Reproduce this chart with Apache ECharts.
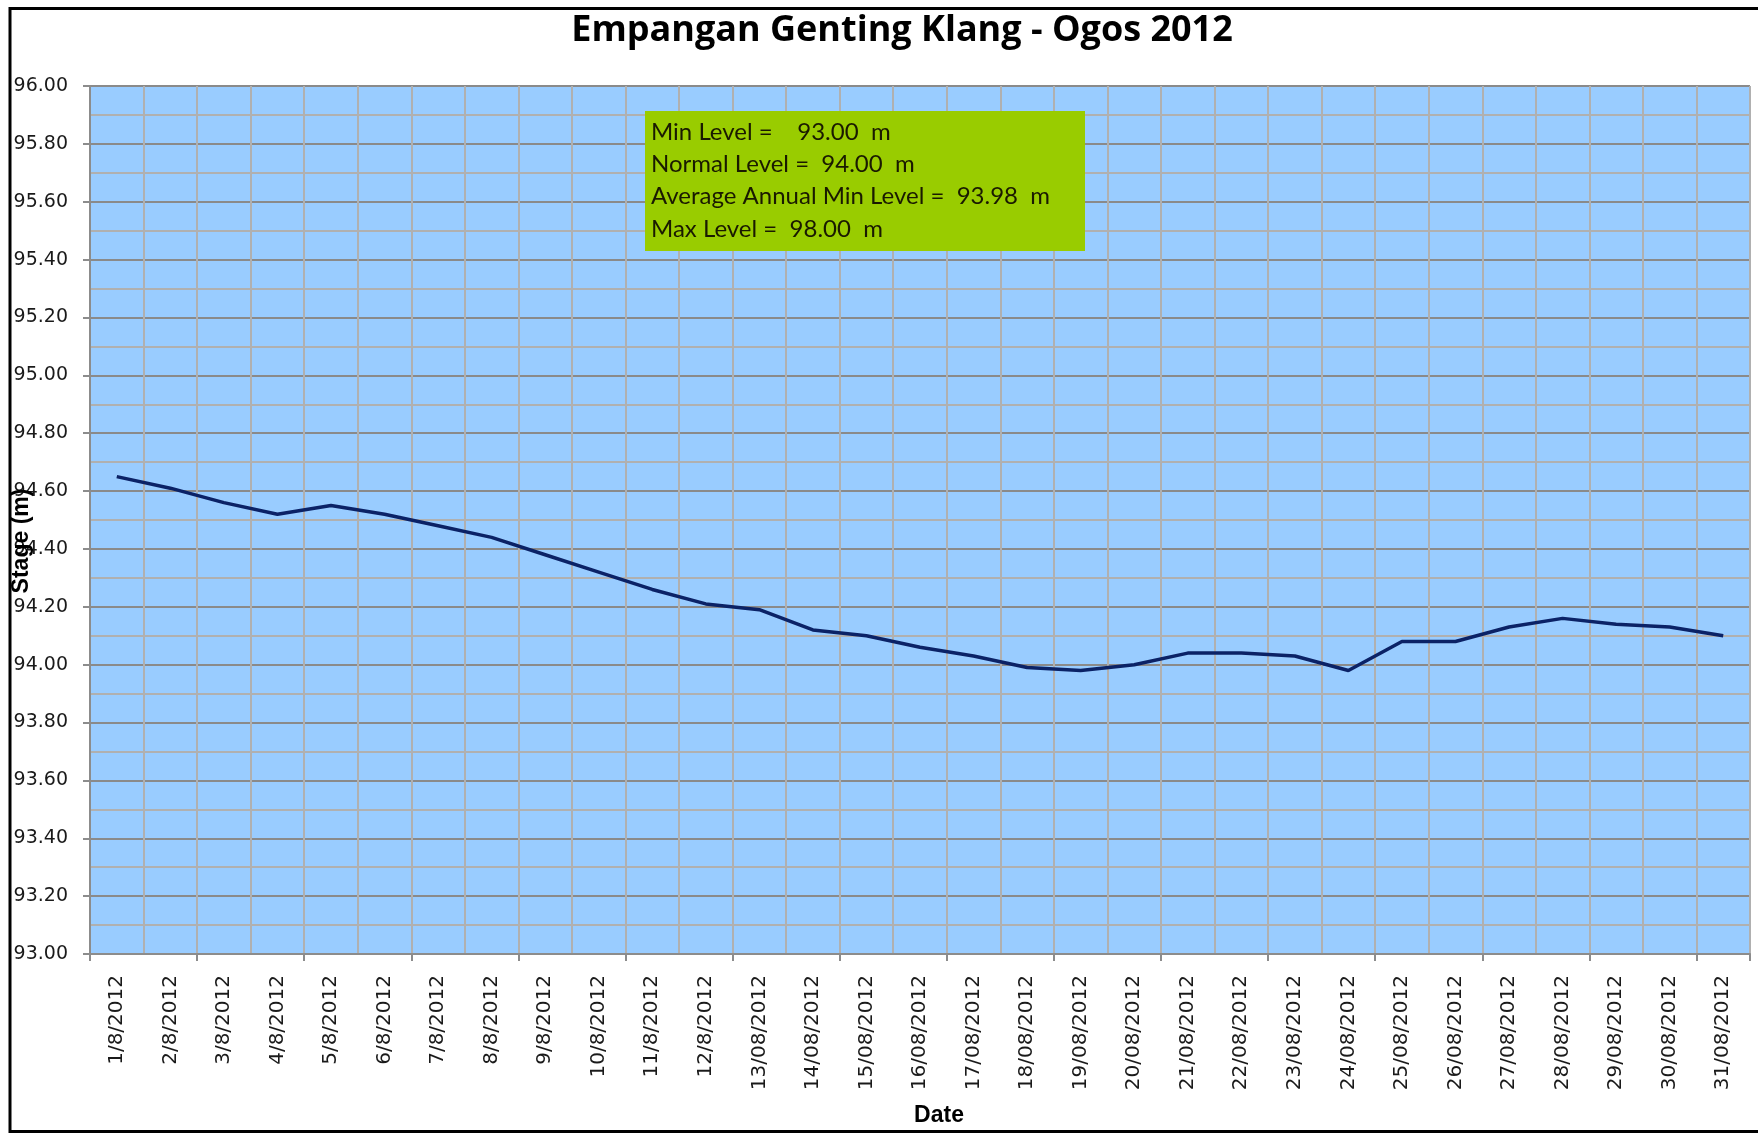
<!DOCTYPE html>
<html>
<head>
<meta charset="utf-8">
<script src="https://cdn.jsdelivr.net/npm/echarts@6/dist/echarts.min.js"></script>
<style>
html,body{margin:0;padding:0;background:#fff;}
#chart{width:1758px;height:1134px;}
</style>
</head>
<body>
<div id="chart"></div>
<script>
const titleText = 'Empangan Genting Klang - Ogos 2012';
const categories = ['1/8/2012','2/8/2012','3/8/2012','4/8/2012','5/8/2012','6/8/2012','7/8/2012','8/8/2012','9/8/2012','10/8/2012','11/8/2012','12/8/2012','13/08/2012','14/08/2012','15/08/2012','16/08/2012','17/08/2012','18/08/2012','19/08/2012','20/08/2012','21/08/2012','22/08/2012','23/08/2012','24/08/2012','25/08/2012','26/08/2012','27/08/2012','28/08/2012','29/08/2012','30/08/2012','31/08/2012'];
const stage = [94.65,94.61,94.56,94.52,94.55,94.52,94.48,94.44,94.38,94.32,94.26,94.21,94.19,94.12,94.10,94.06,94.03,93.99,93.98,94.00,94.04,94.04,94.03,93.98,94.08,94.08,94.13,94.16,94.14,94.13,94.10];
const yMin = 93.0, yMax = 96.0, yStep = 0.2;
const infoLines = ['Min Level =    93.00  m','Normal Level =  94.00  m','Average Annual Min Level =  93.98  m','Max Level =  98.00  m'];
const yName = 'Stage (m)';
const xName = 'Date';

const chart = echarts.init(document.getElementById('chart'), null, {renderer:'canvas'});
const infoText = infoLines.map((t,i)=>({
  type:'text', x: 651, y: 132 + i*32.3, z: 52,
  style:{text:t, font:'24px Lato', fill:'#1a1a00', verticalAlign:'middle', align:'left'}
}));
chart.setOption({
  animation:false,
  backgroundColor:'#ffffff',
  title:{
    text:titleText, left:897, top:8, textAlign:'center',
    textStyle:{fontFamily:'Open Sans', fontWeight:'bold', fontSize:36, color:'#000'}
  },
  grid:{left:90, right:8, top:86, bottom:180, show:true, backgroundColor:'#99CCFF', borderWidth:0},
  xAxis:{
    type:'category', data:categories, boundaryGap:true,
    axisLine:{show:true, lineStyle:{color:'#8c8c8c', width:2}},
    axisTick:{show:true, interval:1, length:7, lineStyle:{color:'#8c8c8c', width:2}},
    axisLabel:{interval:0, rotate:90, margin:21, fontFamily:'DejaVu Sans', fontSize:20, color:'#1a1a1a'},
    splitLine:{show:true, interval:0, lineStyle:{color:'#b0b0b0', width:2}}
  },
  yAxis:{
    type:'value', min:yMin, max:yMax, interval:yStep,
    axisLine:{show:true, lineStyle:{color:'#8c8c8c', width:2}},
    axisTick:{show:true, length:7, lineStyle:{color:'#8c8c8c', width:2}},
    axisLabel:{margin:22, fontFamily:'DejaVu Sans', fontSize:19, color:'#1a1a1a', formatter:v=>v.toFixed(2)},
    splitLine:{show:true, lineStyle:{color:'#8a8a8a', width:2}},
    minorTick:{show:false, splitNumber:2},
    minorSplitLine:{show:true, lineStyle:{color:'#b0b0b0', width:2}}
  },
  series:[{
    type:'line', data:stage, symbol:'none', smooth:false,
    lineStyle:{color:'#0b2266', width:3.5}
  }],
  graphic:[
    {type:'rect', shape:{x:10, y:8.5, width:1800, height:1123}, style:{fill:'none', stroke:'#000', lineWidth:3}, z:100},
    {type:'rect', x:645, y:111, shape:{width:440, height:140}, style:{fill:'#99CC00'}, z:50},
    ...infoText,
    {type:'text', x:22, y:541, rotation:Math.PI/2, z:60,
      style:{text:yName, font:'bold 23px "Liberation Sans"', fill:'#000', align:'center', verticalAlign:'middle'}},
    {type:'text', x:939, y:1116, z:60,
      style:{text:xName, font:'bold 23px "Liberation Sans"', fill:'#000', align:'center', verticalAlign:'middle'}}
  ]
});
</script>
</body>
</html>
